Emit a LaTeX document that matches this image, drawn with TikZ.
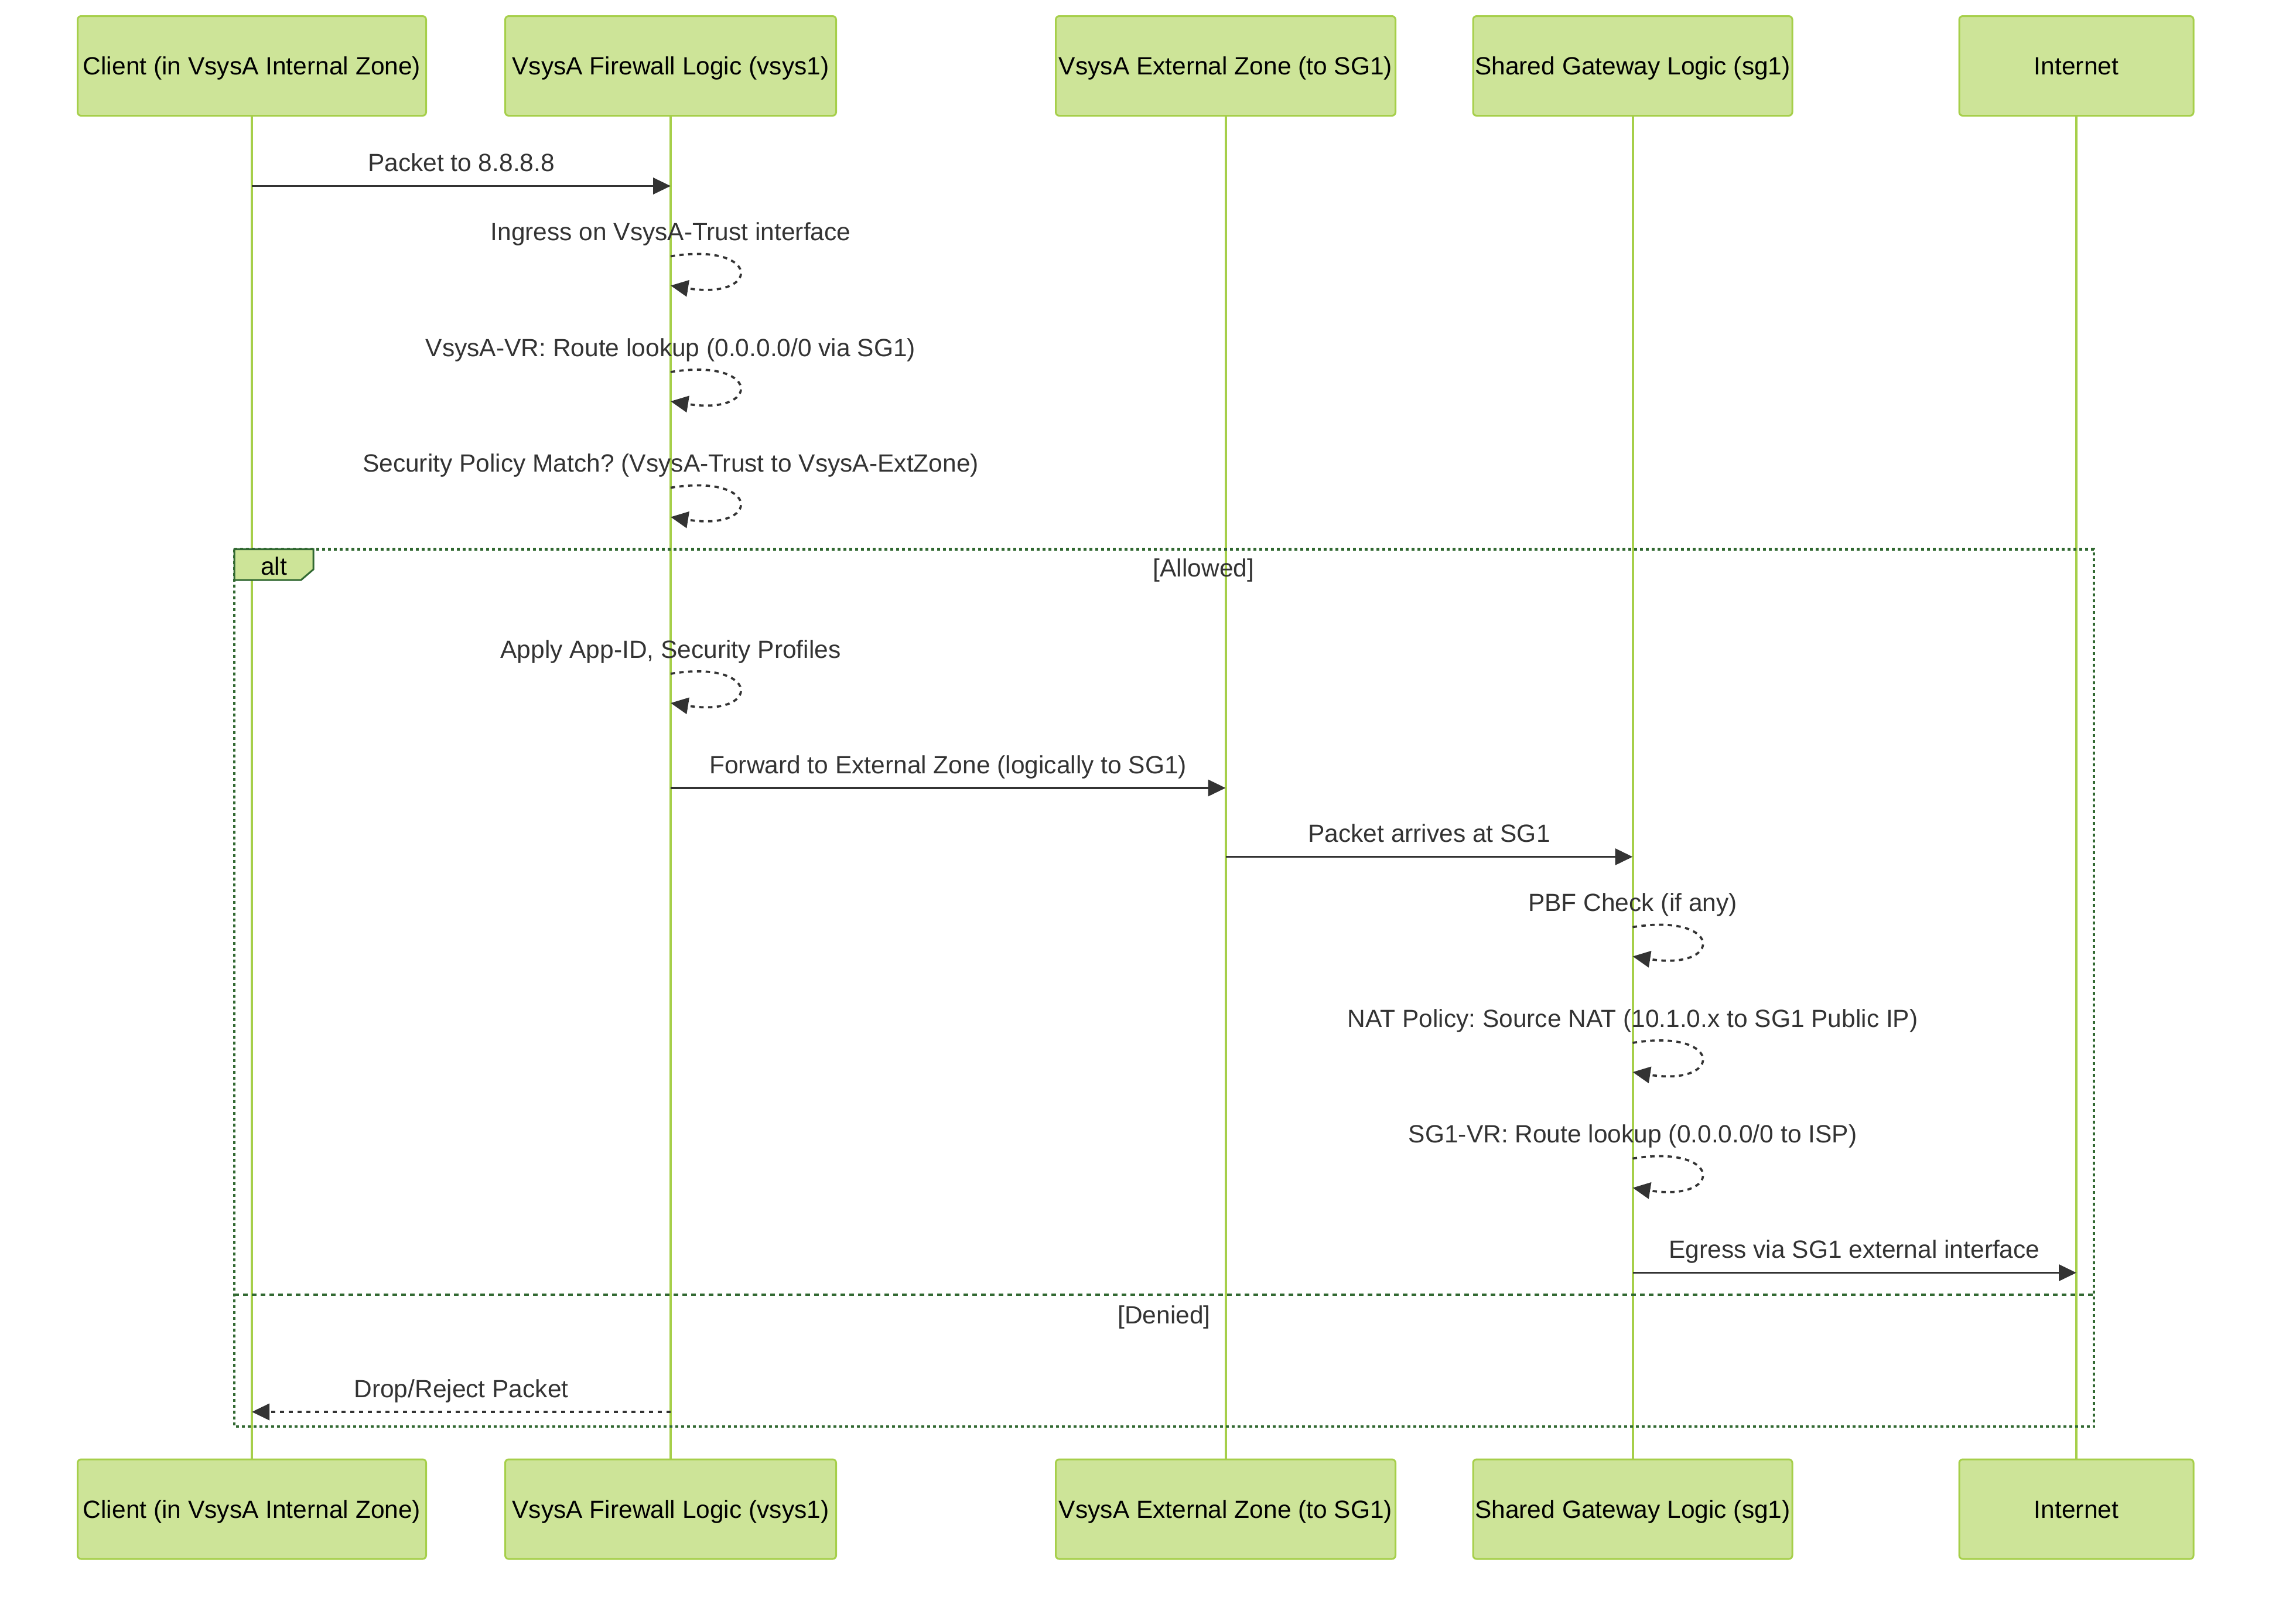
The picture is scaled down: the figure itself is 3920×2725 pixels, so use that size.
\documentclass[tikz,border=0pt]{standalone}
\usepackage{fontspec}
\setmainfont{Liberation Sans}
\frenchspacing
\usetikzlibrary{arrows.meta}
\definecolor{actfill}{HTML}{CDE498}
\definecolor{actline}{HTML}{A6CF4A}
\definecolor{msgc}{HTML}{333333}
\definecolor{loopc}{HTML}{326932}
\begin{document}
\begin{tikzpicture}[x=1pt,y=-1pt,
  actor/.style={draw=actline,fill=actfill,line width=3pt,rounded corners=6pt,
    minimum width=#1,minimum height=170pt,inner sep=0pt,
    text height=30.4pt,text depth=0pt,
    font=\fontsize{42.5}{50}\selectfont,text=black},
  life/.style={draw=actline,line width=4pt},
  msgline/.style={draw=msgc,line width=3.75pt,-{Triangle[length=30pt,width=28pt]}},
  msgdash/.style={msgline,dash pattern=on 7.5pt off 7.5pt},
  msgtext/.style={anchor=base,text=msgc,font=\fontsize{42.5}{50}\selectfont,inner sep=0pt},
  loopline/.style={draw=loopc,line width=4.5pt,dash pattern=on 5pt off 5pt},
  sepline/.style={draw=loopc,line width=4.5pt,dash pattern=on 7.5pt off 7.5pt},
  altbox/.style={draw=loopc,fill=actfill,line width=3pt},
]
\useasboundingbox (0,0) rectangle (3920,2725);
\def\xA{430}\def\xB{1145}\def\xC{2092.5}\def\xD{2787.5}\def\xE{3545}
% actors
\node[actor={595pt}] (a1) at (\xA,112.5) {Client (in VsysA Internal Zone)};
\node[actor={565pt}] (a2) at (\xB,112.5) {VsysA Firewall Logic (vsys1)};
\node[actor={580pt}] (a3) at (\xC,112.5) {VsysA External Zone (to SG1)};
\node[actor={545pt}] (a4) at (\xD,112.5) {Shared Gateway Logic (sg1)};
\node[actor={400pt}] (a5) at (\xE,112.5) {Internet};
\node[actor={595pt}] (b1) at (\xA,2576) {Client (in VsysA Internal Zone)};
\node[actor={565pt}] (b2) at (\xB,2576) {VsysA Firewall Logic (vsys1)};
\node[actor={580pt}] (b3) at (\xC,2576) {VsysA External Zone (to SG1)};
\node[actor={545pt}] (b4) at (\xD,2576) {Shared Gateway Logic (sg1)};
\node[actor={400pt}] (b5) at (\xE,2576) {Internet};
% lifelines
\foreach \i in {1,...,5}{\draw[life] (a\i.south) -- (b\i.north);}
% alt frame
\draw[loopline] (400,937.5) rectangle (3575,2435);
\draw[sepline] (400,2210) -- (3575,2210);
\draw[altbox] (400,937.5) -- (535,937.5) -- (535,972) -- (514,990) -- (400,990) -- cycle;
\node[msgtext,text=black] (altlbl) at (467.5,981) {alt};
\node[msgtext] (allowed) at (2055,984) {[Allowed]};
\node[msgtext] (denied) at (1987.5,2259) {[Denied]};
% message 1
\coordinate (m1s) at (\xA,317.5); \coordinate (m1e) at (\xB,317.5);
\draw[msgline] (m1s) -- (m1e);
\node[msgtext] (t1) at (787.5,292.5) {Packet to 8.8.8.8};
% self loops
\foreach \nm/\x/\y/\txt in {
  2/\xB/437.5/{Ingress on VsysA-Trust interface},
  3/\xB/635/{VsysA-VR: Route lookup (0.0.0.0/0 via SG1)},
  4/\xB/832.5/{Security Policy Match? (VsysA-Trust to VsysA-ExtZone)},
  5/\xB/1150/{Apply App-ID, Security Profiles},
  8/\xD/1582.5/{PBF Check (if any)},
  9/\xD/1780/{NAT Policy: Source NAT (10.1.0.x to SG1 Public IP)},
  10/\xD/1977.5/{SG1-VR: Route lookup (0.0.0.0/0 to ISP)}}{
  \coordinate (m\nm s) at (\x,\y);
  \coordinate (m\nm e) at (\x,\y+50);
  \draw[msgdash] (m\nm s) .. controls (\x+155,\y-25) and (\x+155,\y+75) .. (m\nm e);
  \node[msgtext] (t\nm) at (\x,\y-27) {\txt};
}
% message 6
\coordinate (m6s) at (\xB,1345); \coordinate (m6e) at (\xC,1345);
\draw[msgline] (m6s) -- (m6e);
\node[msgtext] (t6) at (1618.75,1320) {Forward to External Zone (logically to SG1)};
% message 7
\coordinate (m7s) at (\xC,1462.5); \coordinate (m7e) at (\xD,1462.5);
\draw[msgline] (m7s) -- (m7e);
\node[msgtext] (t7) at (2440,1437.5) {Packet arrives at SG1};
% message 11
\coordinate (m11s) at (\xD,2172.5); \coordinate (m11e) at (\xE,2172.5);
\draw[msgline] (m11s) -- (m11e);
\node[msgtext] (t11) at (3166,2147.5) {Egress via SG1 external interface};
% message 12
\coordinate (m12s) at (\xB,2410); \coordinate (m12e) at (\xA,2410);
\draw[msgdash] (m12s) -- (m12e);
\node[msgtext] (t12) at (787.5,2385) {Drop/Reject Packet};
\end{tikzpicture}
\end{document}
